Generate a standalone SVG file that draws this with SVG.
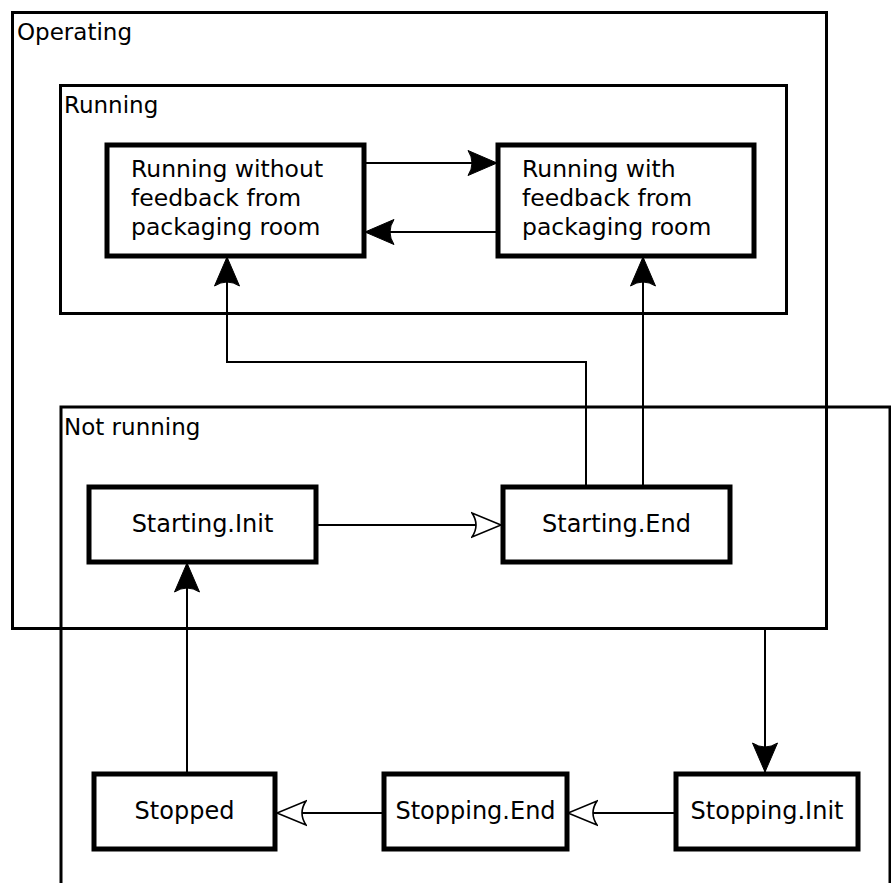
<svg xmlns="http://www.w3.org/2000/svg" width="891" height="883" viewBox="0 0 891 883">
  <style>
    .container { fill: none; stroke: #000; stroke-width: 3; }
    .state { fill: #fff; stroke: #000; stroke-width: 5; }
    .edge { fill: none; stroke: #000; stroke-width: 2; }
    text { font-family: "DejaVu Sans", Verdana, sans-serif; font-size: 23px; fill: #000; }
    .ml { font-size: 23.5px; }
    .c { text-anchor: middle; font-size: 24px; }
  </style>
  <defs>
    <marker id="filled" markerUnits="userSpaceOnUse" markerWidth="32" markerHeight="28" viewBox="0 0 32 28" refX="30" refY="14" orient="auto">
      <path d="M30,14 L1,1.5 Q9,14 1,26.5 Z" fill="#000" stroke="#000" stroke-width="1"/>
    </marker>
    <marker id="open" markerUnits="userSpaceOnUse" markerWidth="32" markerHeight="28" viewBox="0 0 32 28" refX="30" refY="14" orient="auto">
      <path d="M30,14 L1,2 Q9,14 1,26 Z" fill="#fff" stroke="#000" stroke-width="1.6"/>
    </marker>
  </defs>

  <rect width="891" height="883" fill="#fff"/>

  <!-- composite states -->
  <g id="operating">
    <rect class="container" x="12.5" y="12.5" width="814" height="616"/>
    <text x="17" y="40">Operating</text>
  </g>
  <g id="running">
    <rect class="container" x="60.5" y="85.5" width="726" height="228"/>
    <text x="64" y="113">Running</text>
  </g>
  <g id="not-running">
    <rect class="container" x="61" y="407" width="829" height="500"/>
    <text x="64" y="435">Not running</text>
  </g>

  <!-- connectors -->
  <g id="connectors">
    <line class="edge" x1="364" y1="163" x2="497" y2="163" marker-end="url(#filled)"/>
    <line class="edge" x1="498" y1="232" x2="365" y2="232" marker-end="url(#filled)"/>
    <polyline class="edge" points="586,486 586,362 227,362 227,257" marker-end="url(#filled)"/>
    <line class="edge" x1="643" y1="486" x2="643" y2="257" marker-end="url(#filled)"/>
    <line class="edge" x1="316" y1="525" x2="501" y2="525" marker-end="url(#open)"/>
    <line class="edge" x1="187" y1="773" x2="187" y2="563" marker-end="url(#filled)"/>
    <line class="edge" x1="765" y1="629" x2="765" y2="772" marker-end="url(#filled)"/>
    <line class="edge" x1="675" y1="813" x2="568" y2="813" marker-end="url(#open)"/>
    <line class="edge" x1="383" y1="813" x2="277" y2="813" marker-end="url(#open)"/>
  </g>

  <!-- simple states -->
  <g id="running-without-feedback">
    <rect class="state" x="107" y="145" width="257" height="111"/>
    <text class="ml" x="131" y="177">Running without</text>
    <text class="ml" x="131" y="206">feedback from</text>
    <text class="ml" x="131" y="235">packaging room</text>
  </g>
  <g id="running-with-feedback">
    <rect class="state" x="498" y="145" width="256" height="111"/>
    <text class="ml" x="522" y="177">Running with</text>
    <text class="ml" x="522" y="206">feedback from</text>
    <text class="ml" x="522" y="235">packaging room</text>
  </g>
  <g id="starting-init">
    <rect class="state" x="89" y="487" width="227" height="75"/>
    <text class="c" x="202.5" y="532">Starting.Init</text>
  </g>
  <g id="starting-end">
    <rect class="state" x="503" y="487" width="227" height="75"/>
    <text class="c" x="616.5" y="532">Starting.End</text>
  </g>
  <g id="stopped">
    <rect class="state" x="94" y="774" width="181" height="75"/>
    <text class="c" x="184.5" y="819">Stopped</text>
  </g>
  <g id="stopping-end">
    <rect class="state" x="384" y="774" width="183" height="75"/>
    <text class="c" x="475.5" y="819">Stopping.End</text>
  </g>
  <g id="stopping-init">
    <rect class="state" x="676" y="774" width="182" height="75"/>
    <text class="c" x="767" y="819">Stopping.Init</text>
  </g>
</svg>
